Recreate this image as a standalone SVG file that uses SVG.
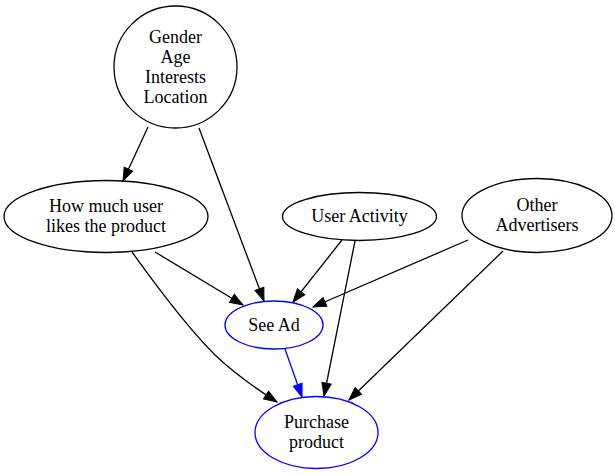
<svg xmlns="http://www.w3.org/2000/svg" width="615" height="474" viewBox="0 0 615 474">
<style>
.n{fill:none;stroke:#000;stroke-width:1.3}
.b{stroke:#0000ff}
text{font-family:'Liberation Serif','Times New Roman','DejaVu Serif',serif;font-size:18px;text-anchor:middle;fill:#000}
.e{fill:none;stroke:#000;stroke-width:1.3}
.eb{stroke:#0000ff}
</style>
<defs>
<marker id="ah" markerUnits="userSpaceOnUse" markerWidth="14" markerHeight="10" refX="13" refY="4.7" orient="auto" overflow="visible">
<path d="M0,0 L13,4.7 L0,9.4 z" fill="#000" stroke="#000" stroke-width="1"/>
</marker>
<marker id="ahb" markerUnits="userSpaceOnUse" markerWidth="14" markerHeight="10" refX="13" refY="4.7" orient="auto" overflow="visible">
<path d="M0,0 L13,4.7 L0,9.4 z" fill="#0000ff" stroke="#0000ff" stroke-width="1"/>
</marker>
</defs>
<g id="edges">
<path class="e" d="M148,127 L123,181" marker-end="url(#ah)"/>
<path class="e" d="M199,128 L264,301" marker-end="url(#ah)"/>
<path class="e" d="M155,252 L243,305" marker-end="url(#ah)"/>
<path class="e" d="M132,252 C165,298 195,335 215,355 C235,374 255,388 277,402" marker-end="url(#ah)"/>
<path class="e" d="M342,240 L293,302" marker-end="url(#ah)"/>
<path class="e" d="M355,241 L324,396" marker-end="url(#ah)"/>
<path class="e" d="M468,240 L313,307" marker-end="url(#ah)"/>
<path class="e" d="M503,251 L349,400" marker-end="url(#ah)"/>
<path class="e eb" d="M285,349 L302,397" marker-end="url(#ahb)"/>
</g>
<g id="demographics">
<ellipse class="n" cx="175.5" cy="67" rx="61.5" ry="61"/>
<text x="175.5" y="43">Gender</text>
<text x="175.5" y="63">Age</text>
<text x="175.5" y="83">Interests</text>
<text x="175.5" y="103">Location</text>
</g>
<g id="likes">
<ellipse class="n" cx="106" cy="216.5" rx="102" ry="36"/>
<text x="106" y="211.5">How much user</text>
<text x="106" y="231.5">likes the product</text>
</g>
<g id="activity">
<ellipse class="n" cx="359.5" cy="216.5" rx="77" ry="24"/>
<text x="359.5" y="222">User Activity</text>
</g>
<g id="advertisers">
<ellipse class="n" cx="537" cy="215.5" rx="75" ry="37"/>
<text x="537" y="211">Other</text>
<text x="537" y="231">Advertisers</text>
</g>
<g id="seead">
<ellipse class="n b" cx="274" cy="325" rx="49" ry="24"/>
<text x="274" y="330.5">See Ad</text>
</g>
<g id="purchase">
<ellipse class="n b" cx="316.5" cy="432.5" rx="61.5" ry="36"/>
<text x="316.5" y="428">Purchase</text>
<text x="316.5" y="448">product</text>
</g>
</svg>
